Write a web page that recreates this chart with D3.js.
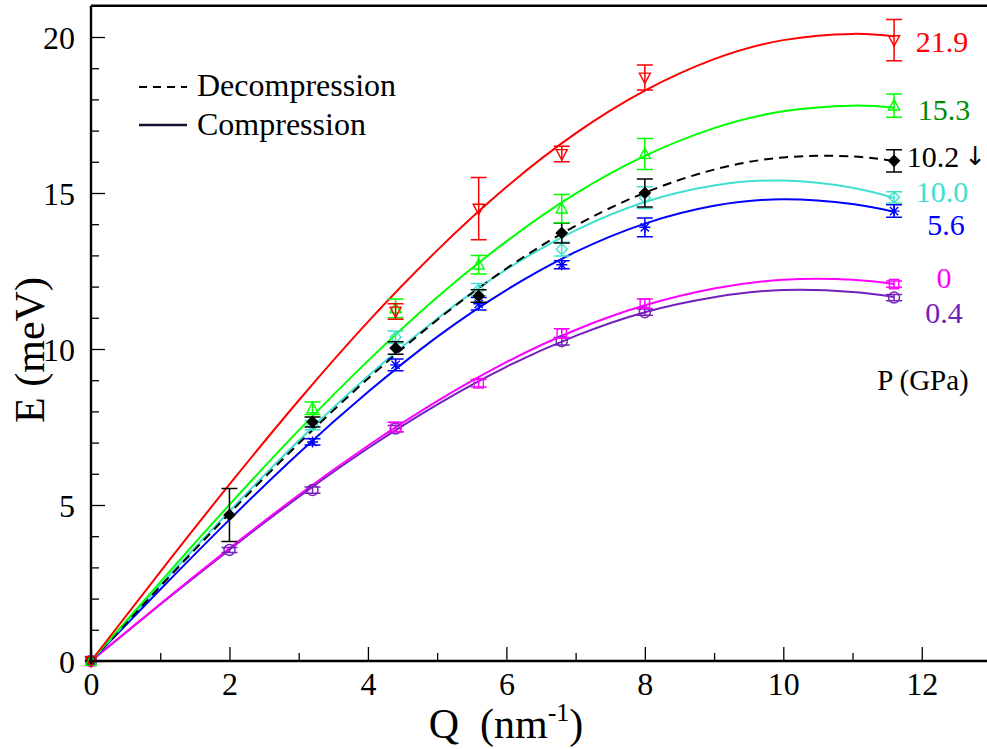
<!DOCTYPE html>
<html>
<head>
<meta charset="utf-8">
<script src="https://cdn.jsdelivr.net/npm/d3@7/dist/d3.min.js"></script>
<style>
  html, body { margin: 0; padding: 0; background: #fff; }
  svg { display: block; }
</style>
</head>
<body>
<svg id="chart" width="987" height="749"></svg>
<script>
// Fitted dispersion curves, sampled in Q (nm^-1)
const curveQ = [0, 1, 2, 3, 4, 5, 6, 7, 8, 9, 10, 11, 11.6];
const fit_21_9 = [0, 2.86, 5.66, 8.35, 10.87, 13.16, 15.19, 16.91, 18.28, 19.29, 19.90, 20.10, 20.02];
const fit_15_3 = [0, 2.53, 5.01, 7.39, 9.62, 11.66, 13.45, 14.98, 16.19, 17.08, 17.62, 17.80, 17.73];
const fit_10_2 = [0, 2.39, 4.73, 6.97, 9.05, 10.93, 12.58, 13.95, 15.01, 15.75, 16.14, 16.17, 16.02];
const fit_10_0 = [0, 2.43, 4.80, 7.06, 9.13, 10.97, 12.55, 13.80, 14.71, 15.24, 15.40, 15.17, 14.84];
const fit_5_6  = [0, 2.29, 4.53, 6.66, 8.62, 10.39, 11.89, 13.11, 14.02, 14.59, 14.80, 14.65, 14.40];
const fit_0    = [0, 1.83, 3.61, 5.32, 6.90, 8.33, 9.58, 10.61, 11.40, 11.94, 12.22, 12.22, 12.08];
const fit_0_4  = [0, 1.81, 3.57, 5.26, 6.82, 8.22, 9.43, 10.42, 11.18, 11.66, 11.89, 11.83, 11.67];

// Measured excitation energies: [Q, E, error]
const pts_21_9 = [[0, 0, 0], [4.4, 11.2, 0.25], [5.6, 14.5, 1.0], [6.8, 16.25, 0.25], [8, 18.7, 0.4], [11.6, 19.9, 0.66]];
const pts_15_3 = [[0, 0, 0], [3.2, 8.1, 0.2], [4.4, 11.3, 0.3], [5.6, 12.7, 0.3], [6.8, 14.5, 0.45], [8, 16.25, 0.5], [11.6, 17.8, 0.37]];
const pts_10_2 = [[0, 0, 0], [2, 4.68, 0.85], [3.2, 7.66, 0.16], [4.4, 10.03, 0.2], [5.6, 11.7, 0.2], [6.8, 13.72, 0.32], [8, 15.0, 0.45], [11.6, 16.03, 0.36]];
const pts_10_0 = [[0, 0, 0], [3.2, 7.56, 0.15], [4.4, 10.38, 0.2], [5.6, 11.9, 0.2], [6.8, 13.2, 0.22], [8, 14.85, 0.35], [11.6, 14.86, 0.18]];
const pts_5_6  = [[0, 0, 0], [3.2, 7.02, 0.1], [4.4, 9.49, 0.19], [5.6, 11.45, 0.2], [6.8, 12.7, 0.13], [8, 13.9, 0.3], [11.6, 14.42, 0.2]];
const pts_0    = [[0, 0, 0], [4.4, 7.5, 0.15], [5.6, 8.9, 0.12], [6.8, 10.5, 0.15], [8, 11.45, 0.15], [11.6, 12.08, 0.1]];
const pts_0_4  = [[0, 0, 0], [2, 3.56, 0.08], [3.2, 5.48, 0.1], [4.4, 7.45, 0.1], [6.8, 10.25, 0.12], [8, 11.18, 0.1], [11.6, 11.65, 0.1]];

// Pressure labels (GPa)
const pressureLabels = ["21.9", "15.3", "10.2", "10.0", "5.6", "0", "0.4"];
const xTicks = [0, 2, 4, 6, 8, 10, 12];
const yTicks = [0, 5, 10, 15, 20];

const SERIF = '"Liberation Serif", "Times New Roman", Times, serif';

const series = [
  { label: pressureLabels[0], fit: fit_21_9, pts: pts_21_9, color: "#ff0000", text: "#ff0000", marker: "tdown", dash: null, ly: 41, lx: 942 },
  { label: pressureLabels[1], fit: fit_15_3, pts: pts_15_3, color: "#00ff00", text: "#008b00", marker: "tup", dash: null, ly: 109, lx: 944 },
  { label: pressureLabels[2], fit: fit_10_2, pts: pts_10_2, color: "#000000", text: "#000000", marker: "diamondFill", dash: "9,6", ly: 156, lx: 933 },
  { label: pressureLabels[3], fit: fit_10_0, pts: pts_10_0, color: "#40e0d0", text: "#40e0d0", marker: "diamond", dash: null, ly: 191, lx: 942 },
  { label: pressureLabels[4], fit: fit_5_6,  pts: pts_5_6,  color: "#0000ff", text: "#0000ff", marker: "star", dash: null, ly: 224, lx: 946 },
  { label: pressureLabels[5], fit: fit_0,    pts: pts_0,    color: "#ff00ff", text: "#ff00ff", marker: "square", dash: null, ly: 277, lx: 944 },
  { label: pressureLabels[6], fit: fit_0_4,  pts: pts_0_4,  color: "#7221bc", text: "#7221bc", marker: "circle", dash: null, ly: 312, lx: 944 }
];

const svg = d3.select("#chart");
const x = d3.scaleLinear().domain([0, 13]).range([91, 91 + 13 * 69.23]);
const y = d3.scaleLinear().domain([0, 21]).range([661, 661 - 21 * 31.2]);

const g = svg.append("g");

// Curves
const line = d3.line().x(d => x(d[0])).y(d => y(d[1])).curve(d3.curveNatural);
const drawOrder = [6, 5, 4, 3, 2, 1, 0];
drawOrder.forEach(i => {
  const s = series[i];
  g.append("path")
    .datum(curveQ.map((q, k) => [q, s.fit[k]]))
    .attr("d", line)
    .attr("fill", "none")
    .attr("stroke", s.color)
    .attr("stroke-width", 2)
    .attr("stroke-dasharray", s.dash);
});

// Error bars and markers
function marker(sel, type, color) {
  const r = 5.5;
  if (type === "tdown") {
    sel.append("path").attr("d", `M${-r},${-r * 0.8}L${r},${-r * 0.8}L0,${r * 1.1}Z`).attr("fill", "none").attr("stroke", color).attr("stroke-width", 1.4);
  } else if (type === "tup") {
    sel.append("path").attr("d", `M${-r},${r * 0.8}L${r},${r * 0.8}L0,${-r * 1.1}Z`).attr("fill", "none").attr("stroke", color).attr("stroke-width", 1.4);
  } else if (type === "diamondFill") {
    sel.append("path").attr("d", `M0,${-r}L${r},0L0,${r}L${-r},0Z`).attr("fill", color).attr("stroke", color).attr("stroke-width", 1.2);
  } else if (type === "diamond") {
    sel.append("path").attr("d", `M0,${-r}L${r},0L0,${r}L${-r},0Z`).attr("fill", "none").attr("stroke", color).attr("stroke-width", 1.4);
  } else if (type === "star") {
    const a = r * 0.75;
    sel.append("path").attr("d", `M0,${-r}L0,${r}M${-a},${-a}L${a},${a}M${-a},${a}L${a},${-a}M${-r},0L${r},0`).attr("fill", "none").attr("stroke", color).attr("stroke-width", 1.4);
  } else if (type === "square") {
    sel.append("rect").attr("x", -r * 0.85).attr("y", -r * 0.85).attr("width", r * 1.7).attr("height", r * 1.7).attr("fill", "none").attr("stroke", color).attr("stroke-width", 1.4);
  } else if (type === "circle") {
    sel.append("circle").attr("r", r).attr("fill", "none").attr("stroke", color).attr("stroke-width", 1.4);
  }
}

drawOrder.forEach(i => {
  const s = series[i];
  s.pts.forEach(p => {
    const cx = x(p[0]), cy = y(p[1]);
    if (p[2] > 0) {
      const yt = y(p[1] + p[2]), yb = y(p[1] - p[2]);
      g.append("path")
        .attr("d", `M${cx},${yt}L${cx},${yb}M${cx - 8},${yt}L${cx + 8},${yt}M${cx - 8},${yb}L${cx + 8},${yb}`)
        .attr("stroke", s.color).attr("stroke-width", 1.5).attr("fill", "none");
    }
    const m = g.append("g").attr("transform", `translate(${cx},${cy})`);
    marker(m, s.marker, s.color);
  });
});

// Axes with inward major and minor ticks
const xAxis = svg.append("g").attr("transform", `translate(0,${y(0)})`)
  .call(d3.axisBottom(x).tickValues(xTicks).tickSize(-14).tickPadding(14).tickFormat(d3.format("d")));
const xMinor = svg.append("g").attr("transform", `translate(0,${y(0)})`)
  .call(d3.axisBottom(x).tickValues(d3.range(1, 13, 2)).tickSize(-8).tickFormat(""));
const yAxis = svg.append("g").attr("transform", `translate(${x(0)},0)`)
  .call(d3.axisLeft(y).tickValues(yTicks).tickSize(-14).tickPadding(16).tickFormat(d3.format("d")));
const yMinor = svg.append("g").attr("transform", `translate(${x(0)},0)`)
  .call(d3.axisLeft(y).tickValues(d3.range(1, 21).filter(v => v % 5 !== 0)).tickSize(-8).tickFormat(""));

[xAxis, xMinor, yAxis, yMinor].forEach(a => {
  a.attr("font-family", null);
  a.select(".domain").remove();
  a.selectAll(".tick line").attr("stroke", "#000").attr("stroke-width", 1.3);
  a.selectAll("text").attr("font-size", 32).attr("fill", "#000").style("font-family", SERIF);
});
xAxis.selectAll("text").attr("dy", "0.71em").attr("y", 11);
yAxis.selectAll("text").attr("dy", "0.35em");

// Frame lines
svg.append("path")
  .attr("d", `M${x(0)},${y(21)}L${x(0)},${y(0)}L${x(13)},${y(0)}M${x(0)},${y(21)}L${x(13)},${y(21)}`)
  .attr("stroke", "#000").attr("stroke-width", 2.4).attr("fill", "none");

// Axis titles
const xt = svg.append("text").attr("x", 506).attr("y", 738).attr("text-anchor", "middle")
  .attr("font-size", 42).attr("fill", "#000").style("font-family", SERIF);
xt.append("tspan").text("Q\u2002(nm");
xt.append("tspan").attr("font-size", 26).attr("dy", -17).text("-1");
xt.append("tspan").attr("dy", 17).text(")");

svg.append("text").attr("transform", "translate(44,350) rotate(-90)")
  .attr("text-anchor", "middle").attr("font-size", 42).attr("fill", "#000")
  .style("font-family", SERIF).text("E (meV)");

// Legend
svg.append("line").attr("x1", 139).attr("x2", 187).attr("y1", 87).attr("y2", 87)
  .attr("stroke", "#000").attr("stroke-width", 2).attr("stroke-dasharray", "8,6");
svg.append("text").attr("x", 197).attr("y", 96).attr("font-size", 32).attr("fill", "#000")
  .style("font-family", SERIF).text("Decompression");
svg.append("line").attr("x1", 139).attr("x2", 187).attr("y1", 125).attr("y2", 125)
  .attr("stroke", "#141432").attr("stroke-width", 2.5);
svg.append("text").attr("x", 197).attr("y", 135).attr("font-size", 32).attr("fill", "#000")
  .style("font-family", SERIF).text("Compression");

// Pressure labels at the right end of each curve
series.forEach(s => {
  svg.append("text").attr("x", s.lx).attr("y", s.ly).attr("dy", "0.35em")
    .attr("text-anchor", "middle").attr("font-size", 30).attr("fill", s.text)
    .style("font-family", SERIF).text(s.label);
});
svg.append("text").attr("x", 986).attr("y", 156).attr("dy", "0.35em").attr("text-anchor", "end")
  .attr("font-size", 26).attr("fill", "#000").style("font-family", '"DejaVu Sans", sans-serif').text("↓");
svg.append("text").attr("x", 923).attr("y", 380).attr("dy", "0.35em").attr("text-anchor", "middle")
  .attr("font-size", 29).attr("fill", "#000").style("font-family", SERIF).text("P (GPa)");
</script>
</body>
</html>
